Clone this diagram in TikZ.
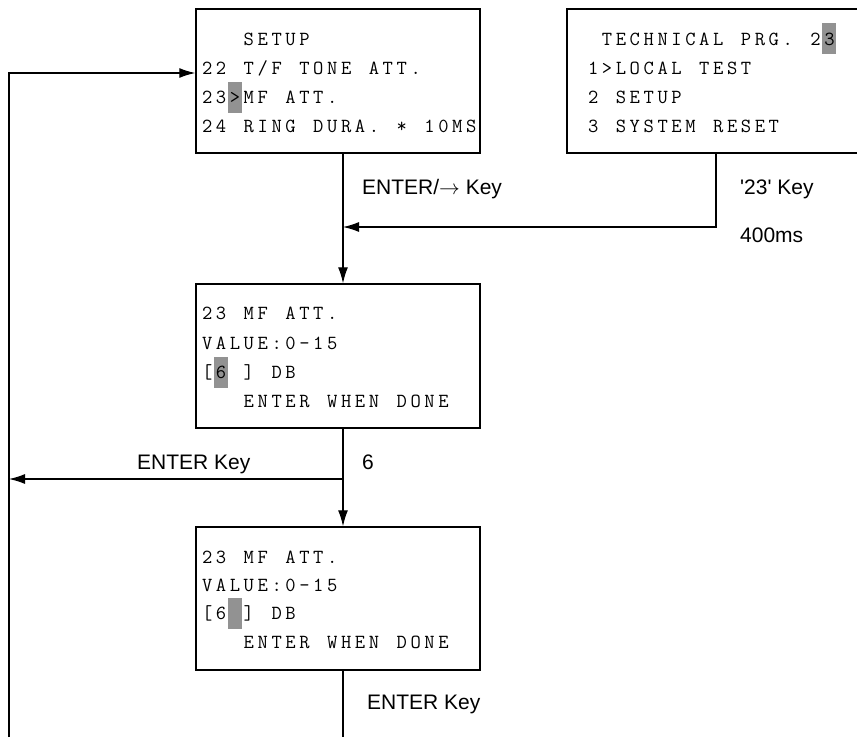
\documentclass[tikz,border=0pt]{standalone}
\usepackage{fontspec}
\usepackage{xcolor}
\usetikzlibrary{arrows.meta, positioning}
\newfontfamily\labelfont{Liberation Sans}
\definecolor{cursorgray}{RGB}{146,146,146}
\newlength{\lcdcell}
\setlength{\lcdcell}{13.9pt}
% one LCD character per fixed cell
\ExplSyntaxOn
\NewDocumentCommand{\lcdtext}{m}{\str_map_inline:nn {#1} {\makebox[\lcdcell][c]{##1}}}
\ExplSyntaxOff

\begin{document}
\begin{tikzpicture}[
        x=1pt, y=-1pt,
        >={Latex[length=16pt, width=10pt]},
        lcdbox/.style={draw, line width=1.5pt, minimum width=284pt, minimum height=144pt, inner sep=0pt},
        lcdrow/.style={anchor=base west, inner sep=0pt, font=\ttfamily\fontsize{20}{20}\selectfont},
        cursor/.style={fill=cursorgray, minimum width=13.9pt, minimum height=31pt, inner sep=0pt},
        keylabel/.style={anchor=base west, inner sep=0pt, font=\labelfont\fontsize{21}{25}\selectfont},
        flow/.style={->, line width=1.2pt},
        link/.style={line width=1.2pt}
    ]
        \useasboundingbox (0,0) rectangle (857,737);

        % screens
        \node[lcdbox] (setup) at (338,81) {};
        \node[lcdbox, minimum width=293pt] (techprg) at (713.5,81) {};
        \node[lcdbox] (value) at (338,356) {};
        \node[lcdbox, minimum height=143pt] (confirm) at (338,598.5) {};

        % cursor cells
        \node[cursor] (cursetup) at (234.75,97) {};
        \node[cursor] (curtech) at (829.25,38) {};
        \node[cursor] (curvalue) at (220.85,372) {};
        \node[cursor] (curconfirm) at (234.75,613) {};

        % screen texts
        \node[lcdrow] (s0) at (241.7,45) {\lcdtext{SETUP}};
        \node[lcdrow] (s1) at (200,74) {\lcdtext{22 T/F TONE ATT.}};
        \node[lcdrow] (s2) at (200,103) {\lcdtext{23>MF ATT.}};
        \node[lcdrow] (s3) at (200,132) {\lcdtext{24 RING DURA. * 10MS}};

        \node[lcdrow] (t0) at (599.9,45) {\lcdtext{TECHNICAL PRG. 23}};
        \node[lcdrow] (t1) at (586,74) {\lcdtext{1>LOCAL TEST}};
        \node[lcdrow] (t2) at (586,103) {\lcdtext{2 SETUP}};
        \node[lcdrow] (t3) at (586,132) {\lcdtext{3 SYSTEM RESET}};

        \node[lcdrow] (v0) at (200,319) {\lcdtext{23 MF ATT.}};
        \node[lcdrow] (v1) at (200,349) {\lcdtext{VALUE:0-15}};
        \node[lcdrow] (v2) at (200,378) {\lcdtext{[6 ] DB}};
        \node[lcdrow] (v3) at (241.7,407) {\lcdtext{ENTER WHEN DONE}};

        \node[lcdrow] (c0) at (200,563) {\lcdtext{23 MF ATT.}};
        \node[lcdrow] (c1) at (200,591) {\lcdtext{VALUE:0-15}};
        \node[lcdrow] (c2) at (200,619) {\lcdtext{[6 ] DB}};
        \node[lcdrow] (c3) at (241.7,648) {\lcdtext{ENTER WHEN DONE}};

        % key labels
        \node[keylabel] (kenter) at (362,194.5) {ENTER/$\rightarrow$ Key};
        \node[keylabel] (k23) at (740,194.5) {\textquotesingle 23\textquotesingle{} Key};
        \node[keylabel] (kdelay) at (740,242.5) {400ms};
        \node[keylabel] (kback) at (137,469.5) {ENTER Key};
        \node[keylabel] (kdigit) at (362,469.5) {6};
        \node[keylabel] (kdone) at (367,709.5) {ENTER Key};

        % routing points
        \coordinate (spine) at (343,0);
        \coordinate (techdrop) at (716,0);
        \coordinate (join) at (343,227);
        \coordinate (back) at (343,479);
        \coordinate (loopbottom) at (9,737);
        \coordinate (entry) at (0,73);
        \coordinate (exit) at (343,737);

        \draw[flow] (setup.south -| spine) -- (value.north -| spine);
        \draw[flow] (techprg.south -| techdrop) |- (join);
        \draw[flow] (value.south -| spine) -- (confirm.north -| spine);
        \draw[flow] (back) -- (back -| loopbottom);
        \draw[flow] (loopbottom) |- (setup.west |- entry);
        \draw[link] (confirm.south -| spine) -- (exit);
    \end{tikzpicture}
\end{document}
